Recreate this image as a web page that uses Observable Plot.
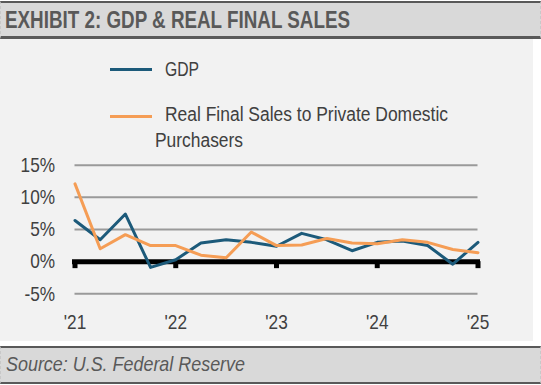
<!DOCTYPE html>
<html><head><meta charset="utf-8">
<script src="https://cdn.jsdelivr.net/npm/d3@7"></script>
<script src="https://cdn.jsdelivr.net/npm/@observablehq/plot@0.6"></script>
<style>
body{margin:0;background:#fff;}
#wrap{position:relative;width:541px;height:385px;overflow:hidden;font-family:"Liberation Sans",Arial,sans-serif;}
#header{position:absolute;left:0;top:1px;width:539px;height:33px;background:#d9d9d9;border-top:2px solid #595959;border-bottom:3px solid #595959;border-left:1px dashed #c8c8c8;border-right:1px dashed #c8c8c8;}
#panel{position:absolute;left:0;top:39px;width:533px;height:302px;background:#f2f2f2;}
#footer{position:absolute;left:0;top:346px;width:539px;height:34px;background:#d9d9d9;border-top:2px solid #595959;border-bottom:2px solid #595959;border-left:1px dashed #c8c8c8;border-right:1px dashed #c8c8c8;}
.t{position:absolute;line-height:0;white-space:pre;transform-origin:0 0;}
.sw{position:absolute;height:3px;width:42px;}
#chart{position:absolute;left:0;top:140px;}
</style>
</head><body>
<div id="wrap">
  <div id="header"></div>
  <div id="panel"></div>
  <div id="footer"></div>
  <div class="t" id="title" data-w="345" style="left:5px;top:20.3px;font-size:23px;font-weight:bold;color:#595959;"></div>
  <div class="sw" id="sw0" style="left:110px;top:67.5px;"></div>
  <div class="sw" id="sw1" style="left:110px;top:115px;"></div>
  <div class="t" id="lg0" data-w="34" style="left:165px;top:69.2px;font-size:19.5px;color:#404040;"></div>
  <div class="t" id="lg1a" data-w="283" style="left:165px;top:113.9px;font-size:19.5px;color:#404040;"></div>
  <div class="t" id="lg1b" data-w="88" style="left:155px;top:140.2px;font-size:19.5px;color:#404040;"></div>
  <div class="t" id="source" data-w="239" style="left:6px;top:364.4px;font-size:21px;font-style:italic;color:#595959;"></div>
  <div id="chart"></div>
</div>
<script>
const titleText = "EXHIBIT 2: GDP & REAL FINAL SALES";
const sourceText = "Source: U.S. Federal Reserve";
const seriesNames = ["GDP", "Real Final Sales to Private Domestic Purchasers"];
const legendLines = ["Real Final Sales to Private Domestic", "Purchasers"];
const seriesColors = ["#1c5a7a", "#f59d55"];
const quarters = ["2021Q1","2021Q2","2021Q3","2021Q4","2022Q1","2022Q2","2022Q3","2022Q4","2023Q1","2023Q2","2023Q3","2023Q4","2024Q1","2024Q2","2024Q3","2024Q4","2025Q1"];
const gdp = [6.4, 3.4, 7.4, -0.9, 0.3, 2.9, 3.4, 3.0, 2.4, 4.4, 3.4, 1.7, 3.0, 3.2, 2.5, -0.4, 3.0];
const realFinalSales = [12.1, 2.0, 4.2, 2.5, 2.5, 1.0, 0.6, 4.6, 2.5, 2.6, 3.6, 2.9, 2.8, 3.4, 3.0, 1.9, 1.4];
const yTicks = [-5, 0, 5, 10, 15];
const xTicks = [2021, 2022, 2023, 2024, 2025];

const qNum = q => +q.slice(0,4) + (+q.slice(5) - 1) / 4;
const rows = [];
quarters.forEach((q, i) => rows.push({t: qNum(q), v: gdp[i], s: seriesNames[0]}));
quarters.forEach((q, i) => rows.push({t: qNum(q), v: realFinalSales[i], s: seriesNames[1]}));

document.getElementById("title").textContent = titleText;
document.getElementById("source").textContent = sourceText;
document.getElementById("sw0").style.background = seriesColors[0];
document.getElementById("sw1").style.background = seriesColors[1];
document.getElementById("lg0").textContent = seriesNames[0];
document.getElementById("lg1a").textContent = legendLines[0];
document.getElementById("lg1b").textContent = legendLines[1];

// condense HTML texts to the reference widths
document.querySelectorAll(".t[data-w]").forEach(el => {
  const w = el.getBoundingClientRect().width;
  const target = +el.dataset.w;
  if (w > 0) el.style.transform = `scaleX(${target / w})`;
});

const chart = Plot.plot({
  width: 541,
  height: 201,
  marginLeft: 74.5,
  marginRight: 63.5,
  marginTop: 24.7,
  marginBottom: 47.7,
  style: {background: "transparent", fontFamily: "'Liberation Sans', Arial, sans-serif", fontSize: "21px", color: "#404040", overflow: "visible"},
  x: {type: "linear", domain: [2021, 2025]},
  y: {domain: [-5, 15]},
  color: {domain: seriesNames, range: seriesColors},
  marks: [
    Plot.ruleY(yTicks, {stroke: "#9a9a9a", strokeWidth: 2}),
    Plot.axisY({ticks: yTicks, tickSize: 0, tickPadding: 20, tickFormat: d => `${d}%`, label: null}),
    Plot.axisX({ticks: xTicks, tickSize: 0, tickPadding: 20, tickFormat: d => "'" + String(d).slice(2), label: null}),
    Plot.ruleY([0], {stroke: "#000", strokeWidth: 5, insetLeft: -2.5, insetRight: -2.5}),
    Plot.ruleX(xTicks, {x: d => d, y1: 0, y2: 0, insetBottom: -7, stroke: "#000", strokeWidth: 5}),
    Plot.line(rows, {x: "t", y: "v", z: "s", stroke: "s", strokeWidth: 3})
  ]
});
// narrow the axis tick labels (Arial Narrow look)
chart.querySelectorAll("g[aria-label='y-axis tick label'] text, g[aria-label='x-axis tick label'] text").forEach(t => {
  const tr = t.getAttribute("transform") || "";
  t.setAttribute("transform", tr + " scale(0.82,1)");
});
document.getElementById("chart").appendChild(chart);
</script>
</body></html>
